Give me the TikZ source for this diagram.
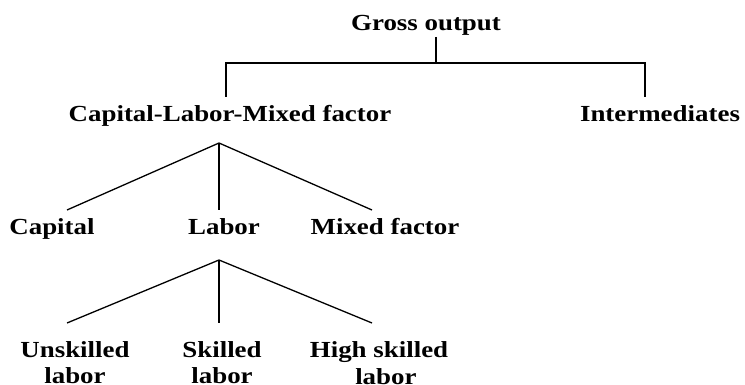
\documentclass[tikz,border=0pt]{standalone}
\usepackage{fontspec}
\setmainfont{Liberation Serif}[FakeStretch=1.17]
\begin{document}
\begin{tikzpicture}[x=1pt,y=-1pt,
  lbl/.style={inner sep=0pt, anchor=base, align=center,
    font=\fontsize{23}{26}\selectfont\bfseries},
  branch/.style={line width=1.3pt, line cap=butt}]
\useasboundingbox (0,0) rectangle (745,385);

% labels (two-line labels are placed by the baseline of their last line)
\node[lbl] (gross) at (426,31) {Gross output};
\node[lbl] (clm)   at (230,122) {Capital-Labor-Mixed factor};
\node[lbl] (inter) at (660,122) {Intermediates};
\node[lbl] (cap)   at (52,235) {Capital};
\node[lbl] (lab)   at (224,235) {Labor};
\node[lbl] (mix)   at (385,235) {Mixed factor};
\node[lbl] (unsk)  at (75,383) {Unskilled\\labor};
\node[lbl] (skl)   at (222,383) {Skilled\\labor};
\node[lbl] (hsk)   at (379,384) {High skilled\\[1pt]\hspace*{0.6em}labor};

% junction points
\coordinate (g0) at (436,37);
\coordinate (g1) at (436,63);
\coordinate (bl) at (226,63);
\coordinate (br) at (645,63);
\coordinate (cl) at (226,97);
\coordinate (cr) at (645,97);
\coordinate (f1) at (219,143);
\coordinate (f2) at (219,260);

% top bracket
\draw[branch] (g0) -- (g1);
\draw[branch] (cl) -- (bl) -- (br) -- (cr);

% first fork
\draw[branch] (f1) -- (67,210);
\draw[branch] (f1) -- (219,210);
\draw[branch] (f1) -- (372,210);

% second fork
\draw[branch] (f2) -- (67,323);
\draw[branch] (f2) -- (219,323);
\draw[branch] (f2) -- (372,323);
\end{tikzpicture}
\end{document}
